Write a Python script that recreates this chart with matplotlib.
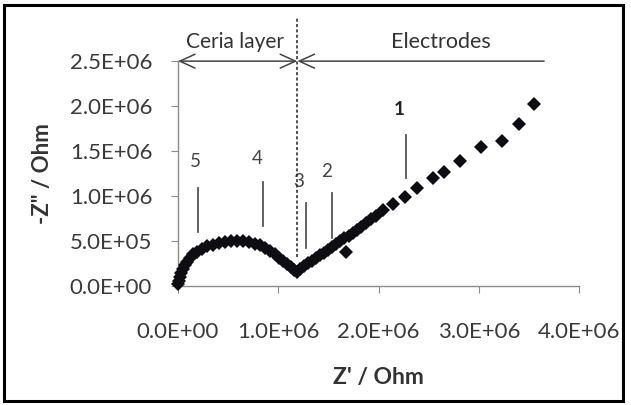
import matplotlib.pyplot as plt
from matplotlib.patches import Rectangle
from matplotlib.ticker import FuncFormatter

plt.rcParams['font.family'] = ['Lato', 'DejaVu Sans']

# =========================
# DATA (Nyquist plot)
# =========================
z_real = [0.00, 0.01, 0.02, 0.03, 0.05, 0.07, 0.09, 0.12, 0.15, 0.19,
          0.24, 0.29, 0.35, 0.41, 0.47, 0.53, 0.59, 0.65, 0.71, 0.77,
          0.82, 0.87, 0.92, 0.97, 1.01, 1.05, 1.09, 1.13, 1.16, 1.19,
          1.22, 1.26, 1.30, 1.34, 1.38, 1.42, 1.46, 1.50, 1.54, 1.58,
          1.62, 1.66, 1.70, 1.74, 1.78, 1.82, 1.87, 1.92, 1.97, 2.04,
          2.14, 2.26, 2.38, 2.54, 2.65, 2.81, 3.02, 3.23, 3.40, 3.55,
          1.68]
z_imag = [0.02, 0.06, 0.10, 0.14, 0.19, 0.23, 0.27, 0.31, 0.35, 0.38,
          0.41, 0.44, 0.46, 0.48, 0.49, 0.50, 0.50, 0.50, 0.49, 0.47,
          0.45, 0.42, 0.39, 0.35, 0.31, 0.28, 0.24, 0.21, 0.18, 0.16,
          0.19, 0.22, 0.25, 0.28, 0.31, 0.34, 0.37, 0.40, 0.43, 0.47,
          0.50, 0.53, 0.56, 0.59, 0.62, 0.66, 0.70, 0.74, 0.78, 0.84,
          0.91, 0.99, 1.09, 1.20, 1.27, 1.39, 1.55, 1.61, 1.80, 2.02,
          0.38]
z_real = [v * 1e6 for v in z_real]
z_imag = [v * 1e6 for v in z_imag]

x_ticks = [0, 1e6, 2e6, 3e6, 4e6]
y_ticks = [0, 0.5e6, 1e6, 1.5e6, 2e6, 2.5e6]

# region markers: label, text x, text y, line x, line y0, line y1, bold
marks = [
    ("5", 0.17e6, 1.38e6, 0.20e6, 0.60e6, 1.09e6, False),
    ("4", 0.79e6, 1.42e6, 0.85e6, 0.67e6, 1.16e6, False),
    ("3", 1.20e6, 1.16e6, 1.28e6, 0.42e6, 0.92e6, False),
    ("2", 1.48e6, 1.27e6, 1.54e6, 0.53e6, 1.03e6, False),
    ("1", 2.20e6, 1.96e6, 2.27e6, 1.20e6, 1.68e6, True),
]

boundary_x = 1.19e6

# =========================
# FIGURE
# =========================
fig = plt.figure(figsize=(6.31, 4.05), dpi=100)
ax = fig.add_axes([0.282, 0.294, 0.636, 0.555])

ax.plot(z_real, z_imag, 'D', color='#0d0d12', markersize=7,
        markeredgewidth=0, clip_on=False, zorder=3)

ax.set_xlim(0, 4e6)
ax.set_ylim(0, 2.5e6)
ax.set_xticks(x_ticks)
ax.set_yticks(y_ticks)
fmt = FuncFormatter(lambda v, p: f"{v:.1E}")
ax.xaxis.set_major_formatter(fmt)
ax.yaxis.set_major_formatter(fmt)

for s in ['top', 'right']:
    ax.spines[s].set_visible(False)
for s in ['left', 'bottom']:
    ax.spines[s].set_color('#8c8c8c')
    ax.spines[s].set_linewidth(1.0)

ax.tick_params(axis='x', direction='out', length=5, color='#8c8c8c',
               labelsize=16, labelcolor='#3a3a3a', pad=21)
ax.tick_params(axis='y', direction='out', length=5, color='#8c8c8c',
               labelsize=16, labelcolor='#3a3a3a', pad=13.5)

ax.set_xlabel("Z' / Ohm", fontsize=16.5, fontweight='bold', color='#333333',
              labelpad=18)
ax.set_ylabel('-Z" / Ohm', fontsize=16, fontweight='bold', color='#333333',
              labelpad=12)

# region arrows
ax.annotate('', xy=(0, 2.5e6), xytext=(boundary_x, 2.5e6),
            arrowprops=dict(arrowstyle='<->, head_length=1.1, head_width=0.5',
                            color='#444444', lw=1.1, shrinkA=0, shrinkB=0),
            annotation_clip=False)
ax.annotate('', xy=(boundary_x, 2.5e6), xytext=(3.65e6, 2.5e6),
            arrowprops=dict(arrowstyle='->, head_length=1.1, head_width=0.5',
                            color='#444444', lw=1.1, shrinkA=0, shrinkB=0),
            annotation_clip=False)
ax.plot([boundary_x, boundary_x], [0.32e6, 2.98e6], linestyle=(0, (2, 1.5)),
        color='#222222', lw=1.1, clip_on=False, zorder=4)

ax.text(0.57e6, 2.71e6, 'Ceria layer', ha='center', va='center',
        fontsize=15, color='#333333', clip_on=False)
ax.text(2.62e6, 2.71e6, 'Electrodes', ha='center', va='center',
        fontsize=15.5, color='#333333', clip_on=False)

for lab, tx, ty, lx, ly0, ly1, bold in marks:
    ax.text(tx, ty, lab, ha='center', va='center', fontsize=13.5,
            color='#222222' if bold else '#444444',
            fontweight='bold' if bold else 'normal')
    ax.plot([lx, lx], [ly0, ly1], color='#555555', lw=1.3)

# outer frame
fig.patches.append(Rectangle((4 / 631, 4 / 405), 619 / 631, 396 / 405,
                             transform=fig.transFigure, fill=False,
                             edgecolor='black', lw=2.2))

plt.savefig("out.png", dpi=100)
